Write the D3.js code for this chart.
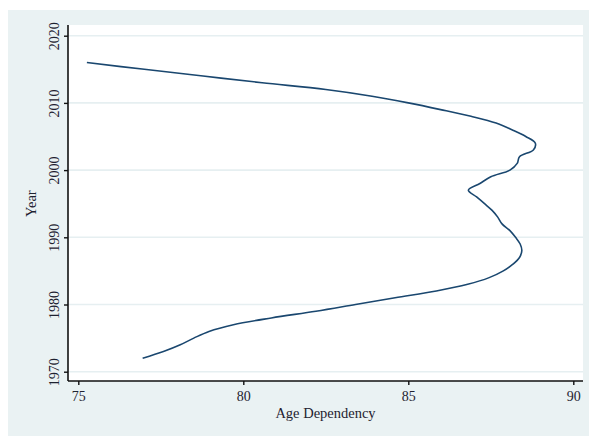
<!DOCTYPE html>
<html>
<head>
<meta charset="utf-8">
<script src="https://cdn.jsdelivr.net/npm/d3@7"></script>
<style>
  html, body { margin: 0; padding: 0; background: #ffffff; }
  svg { display: block; }
  text { font-family: "Liberation Serif", "DejaVu Serif", serif; fill: #1e2230; }
</style>
</head>
<body>
<svg id="chart" width="589" height="436"></svg>
<script>
// Age dependency by year
const years = [1972, 1973, 1974, 1975, 1976, 1977, 1978, 1979, 1980, 1981,
               1982, 1983, 1984, 1985, 1986, 1987, 1988, 1989, 1990, 1991,
               1992, 1993, 1994, 1995, 1996, 1997, 1998, 1999, 2000, 2001,
               2002, 2003, 2004, 2005, 2006, 2007, 2008, 2009, 2010, 2011,
               2012, 2013, 2014, 2015, 2016];
const ageDependency = [76.95, 77.58, 78.09, 78.5, 78.96, 79.7, 80.85, 82.2, 83.4, 84.6,
                       85.85, 86.8, 87.45, 87.88, 88.17, 88.37, 88.44, 88.39, 88.25, 88.08,
                       87.84, 87.71, 87.54, 87.31, 87.07, 86.82, 87.17, 87.5, 88.08, 88.3,
                       88.37, 88.79, 88.85, 88.56, 88.14, 87.66, 86.9, 85.98, 85.0, 83.9,
                       82.5, 80.57, 78.78, 77.0, 75.26];
const xTicks = [75, 80, 85, 90];
const yTicks = [1970, 1980, 1990, 2000, 2010, 2020];

const svg = d3.select("#chart");
const W = 589, H = 436;

// outer graph region
svg.append("rect").attr("x", 8).attr("y", 10).attr("width", W - 8).attr("height", H - 10)
  .attr("fill", "#eaf2f3");

const plot = { left: 68, right: 583, top: 25, bottom: 381 };
svg.append("rect").attr("x", plot.left).attr("y", plot.top)
  .attr("width", plot.right - plot.left).attr("height", plot.bottom - plot.top)
  .attr("fill", "#ffffff");

const x = d3.scaleLinear().domain([75, 90]).range([78.3, 573.3]);
const y = d3.scaleLinear().domain([1970, 2020]).range([371.7, 35.7]);

// horizontal gridlines
svg.append("g").selectAll("line").data(yTicks).join("line")
  .attr("x1", plot.left).attr("x2", plot.right)
  .attr("y1", d => y(d)).attr("y2", d => y(d))
  .attr("stroke", "#e6eff1").attr("stroke-width", 1.6);

// series line
const line = d3.line().x(d => x(d[1])).y(d => y(d[0])).curve(d3.curveCatmullRom.alpha(0.5));
svg.append("path")
  .datum(years.map((yr, i) => [yr, ageDependency[i]]))
  .attr("d", line)
  .attr("fill", "none").attr("stroke", "#1a476f").attr("stroke-width", 1.6)
  .attr("stroke-linejoin", "round");

// x axis
const xAxis = svg.append("g").attr("transform", `translate(0,${plot.bottom})`)
  .call(d3.axisBottom(x).tickValues(xTicks).tickSize(4).tickPadding(6).tickFormat(d3.format("d")));
xAxis.select(".domain").attr("d", `M${plot.left},0H${plot.right}`).attr("stroke", "#111").attr("stroke-width", 1.6);
xAxis.selectAll(".tick line").attr("stroke", "#111").attr("stroke-width", 1.4);
xAxis.selectAll(".tick text").attr("font-size", 14).attr("fill", "#1e2230")
  .attr("font-family", "Liberation Serif, serif");

// y axis
const yAxis = svg.append("g").attr("transform", `translate(${plot.left},0)`)
  .call(d3.axisLeft(y).tickValues(yTicks).tickSize(4).tickFormat(d3.format("d")));
yAxis.select(".domain").attr("d", `M0,${plot.top}V${plot.bottom}`).attr("stroke", "#111").attr("stroke-width", 1.6);
yAxis.selectAll(".tick line").attr("stroke", "#111").attr("stroke-width", 1.4);
yAxis.selectAll(".tick text")
  .attr("font-size", 14).attr("fill", "#1e2230").attr("font-family", "Liberation Serif, serif")
  .attr("x", null).attr("dy", null)
  .attr("text-anchor", "middle")
  .attr("transform", "translate(-14,0) rotate(-90)")
  .attr("dy", "0.35em");

// axis titles
svg.append("text").attr("x", (plot.left + plot.right) / 2).attr("y", 418)
  .attr("text-anchor", "middle").attr("font-size", 14.5).text("Age Dependency");
svg.append("text").attr("transform", `translate(36,${(y(1970) + y(2020)) / 2}) rotate(-90)`)
  .attr("text-anchor", "middle").attr("font-size", 14.5).text("Year");
</script>
</body>
</html>
